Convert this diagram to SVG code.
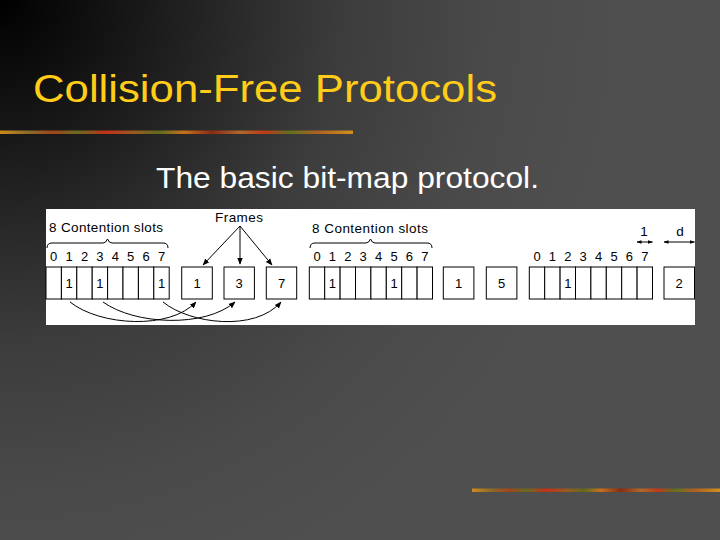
<svg xmlns="http://www.w3.org/2000/svg" width="720" height="540" viewBox="0 0 720 540">
<defs>
<radialGradient id="bg" gradientUnits="userSpaceOnUse" cx="0" cy="0" r="620">
<stop offset="0" stop-color="#000"/>
<stop offset="0.55" stop-color="#3c3c3c"/>
<stop offset="0.8" stop-color="#4a4a4a"/>
<stop offset="1" stop-color="#4f4f4f"/>
</radialGradient>
<linearGradient id="bar" x1="0" y1="0" x2="1" y2="0">
<stop offset="0" stop-color="#d08a1a"/>
<stop offset="0.08" stop-color="#8a6a2a"/>
<stop offset="0.15" stop-color="#a0441a"/>
<stop offset="0.22" stop-color="#6b6a20"/>
<stop offset="0.3" stop-color="#c0301a"/>
<stop offset="0.38" stop-color="#9a5a20"/>
<stop offset="0.45" stop-color="#5e6a1e"/>
<stop offset="0.52" stop-color="#c8701c"/>
<stop offset="0.6" stop-color="#8a2a14"/>
<stop offset="0.68" stop-color="#b0682a"/>
<stop offset="0.75" stop-color="#c03a1a"/>
<stop offset="0.82" stop-color="#607020"/>
<stop offset="0.9" stop-color="#b06020"/>
<stop offset="1" stop-color="#d0901e"/>
</linearGradient>
<marker id="ah" viewBox="0 0 10 10" refX="9" refY="5" markerWidth="7" markerHeight="7" markerUnits="userSpaceOnUse" orient="auto-start-reverse">
<path d="M0,1 L10,5 L0,9 Z" fill="#000"/>
</marker>
<marker id="ahs" viewBox="0 0 10 10" refX="9" refY="5" markerWidth="5" markerHeight="5" markerUnits="userSpaceOnUse" orient="auto-start-reverse">
<path d="M0,1.5 L10,5 L0,8.5 Z" fill="#000"/>
</marker>
<style>
.cell{fill:#fff;stroke:#000;stroke-width:1}
.t{font-family:"Liberation Sans",Arial,sans-serif;fill:#000}
.lab{font-size:13.5px}
.dig{font-size:13px;text-anchor:middle}
.num{font-size:13px;text-anchor:middle}
.ln{fill:none;stroke:#000;stroke-width:1}
</style>
</defs>
<rect width="720" height="540" fill="url(#bg)"/>
<rect x="0" y="130.5" width="353" height="3.5" fill="url(#bar)"/>
<rect x="472" y="488.5" width="248" height="3.5" fill="url(#bar)"/>
<text x="33" y="102" font-family="Liberation Sans, Arial, sans-serif" font-size="39" fill="#FFCC1A" textLength="464" lengthAdjust="spacingAndGlyphs">Collision-Free Protocols</text>
<text x="156" y="188" font-family="Liberation Sans, Arial, sans-serif" font-size="29" fill="#fff" textLength="383" lengthAdjust="spacingAndGlyphs">The basic bit-map protocol.</text>
<rect x="46" y="209" width="649" height="116" fill="#fff"/>

<g id="labels">
<text class="t lab" x="49" y="232" textLength="114">8 Contention slots</text>
<text class="t lab" x="312" y="233" textLength="116">8 Contention slots</text>
<text class="t lab" x="215" y="222" textLength="48">Frames</text>
<text class="t lab" x="644" y="236" text-anchor="middle">1</text>
<text class="t lab" x="680" y="236" text-anchor="middle">d</text>
<path class="ln" d="M47,248 Q47,243 52,243 L103,243 Q106,243 107.5,239 Q109,243 112,243 L163,243 Q168,243 168,248"/>
<path class="ln" d="M310,248 Q310,243 315,243 L366,243 Q369,243 370.5,239 Q372,243 375,243 L427,243 Q432,243 432,248"/>
<g class="t dig">
<text x="53.7" y="261">0</text><text x="69.1" y="261">1</text><text x="84.5" y="261">2</text><text x="99.9" y="261">3</text><text x="115.3" y="261">4</text><text x="130.7" y="261">5</text><text x="146.1" y="261">6</text><text x="161.5" y="261">7</text>
<text x="317" y="261">0</text><text x="332.4" y="261">1</text><text x="347.8" y="261">2</text><text x="363.2" y="261">3</text><text x="378.6" y="261">4</text><text x="394" y="261">5</text><text x="409.4" y="261">6</text><text x="424.8" y="261">7</text>
<text x="537" y="261">0</text><text x="552.4" y="261">1</text><text x="567.8" y="261">2</text><text x="583.2" y="261">3</text><text x="598.6" y="261">4</text><text x="614" y="261">5</text><text x="629.4" y="261">6</text><text x="644.8" y="261">7</text>
</g>
</g>

<g id="slots-1">
<rect class="cell" x="46" y="267" width="15.4" height="32"/>
<rect class="cell" x="61.4" y="267" width="15.4" height="32"/>
<rect class="cell" x="76.8" y="267" width="15.4" height="32"/>
<rect class="cell" x="92.2" y="267" width="15.4" height="32"/>
<rect class="cell" x="107.6" y="267" width="15.4" height="32"/>
<rect class="cell" x="123" y="267" width="15.4" height="32"/>
<rect class="cell" x="138.4" y="267" width="15.4" height="32"/>
<rect class="cell" x="153.8" y="267" width="15.4" height="32"/>
<text class="t num" x="69.1" y="288">1</text>
<text class="t num" x="99.9" y="288">1</text>
<text class="t num" x="161.5" y="288">1</text>
</g>
<g id="frame-1a"><rect class="cell" x="181.7" y="267" width="30.6" height="32"/><text class="t num" x="197" y="288">1</text></g>
<g id="frame-3"><rect class="cell" x="224" y="267" width="30.4" height="32"/><text class="t num" x="239.2" y="288">3</text></g>
<g id="frame-7"><rect class="cell" x="266.3" y="267" width="30.4" height="32"/><text class="t num" x="281.5" y="288">7</text></g>

<g id="slots-2">
<rect class="cell" x="309.3" y="267" width="15.4" height="32"/>
<rect class="cell" x="324.7" y="267" width="15.4" height="32"/>
<rect class="cell" x="340.1" y="267" width="15.4" height="32"/>
<rect class="cell" x="355.5" y="267" width="15.4" height="32"/>
<rect class="cell" x="370.9" y="267" width="15.4" height="32"/>
<rect class="cell" x="386.3" y="267" width="15.4" height="32"/>
<rect class="cell" x="401.7" y="267" width="15.4" height="32"/>
<rect class="cell" x="417.1" y="267" width="15.4" height="32"/>
<text class="t num" x="332.4" y="288">1</text>
<text class="t num" x="394" y="288">1</text>
</g>
<g id="frame-1b"><rect class="cell" x="443.3" y="267" width="30.6" height="32"/><text class="t num" x="458.6" y="288">1</text></g>
<g id="frame-5"><rect class="cell" x="486.3" y="267" width="30.6" height="32"/><text class="t num" x="501.6" y="288">5</text></g>

<g id="slots-3">
<rect class="cell" x="529.3" y="267" width="15.4" height="32"/>
<rect class="cell" x="544.7" y="267" width="15.4" height="32"/>
<rect class="cell" x="560.1" y="267" width="15.4" height="32"/>
<rect class="cell" x="575.5" y="267" width="15.4" height="32"/>
<rect class="cell" x="590.9" y="267" width="15.4" height="32"/>
<rect class="cell" x="606.3" y="267" width="15.4" height="32"/>
<rect class="cell" x="621.7" y="267" width="15.4" height="32"/>
<rect class="cell" x="637.1" y="267" width="15.4" height="32"/>
<text class="t num" x="567.8" y="288">1</text>
</g>
<g id="frame-2"><rect class="cell" x="664" y="267" width="30.5" height="32"/><text class="t num" x="679.2" y="288">2</text></g>

<g id="connectors">
<path class="ln" d="M240,226 L203,265" marker-end="url(#ah)"/>
<path class="ln" d="M240,226 L240,264" marker-end="url(#ah)"/>
<path class="ln" d="M240,226 L272,265" marker-end="url(#ah)"/>
<path class="ln" d="M70,302 C100,326 170,330 196,302" marker-end="url(#ah)"/>
<path class="ln" d="M103,302 C135,325 205,328 235,302" marker-end="url(#ah)"/>
<path class="ln" d="M163,302 C190,324 255,332 281,302" marker-end="url(#ah)"/>
<path class="ln" d="M637,242 L652.5,242" marker-start="url(#ahs)" marker-end="url(#ahs)"/>
<path class="ln" d="M664,242 L694.5,242" marker-start="url(#ahs)" marker-end="url(#ahs)"/>
</g>
</svg>
